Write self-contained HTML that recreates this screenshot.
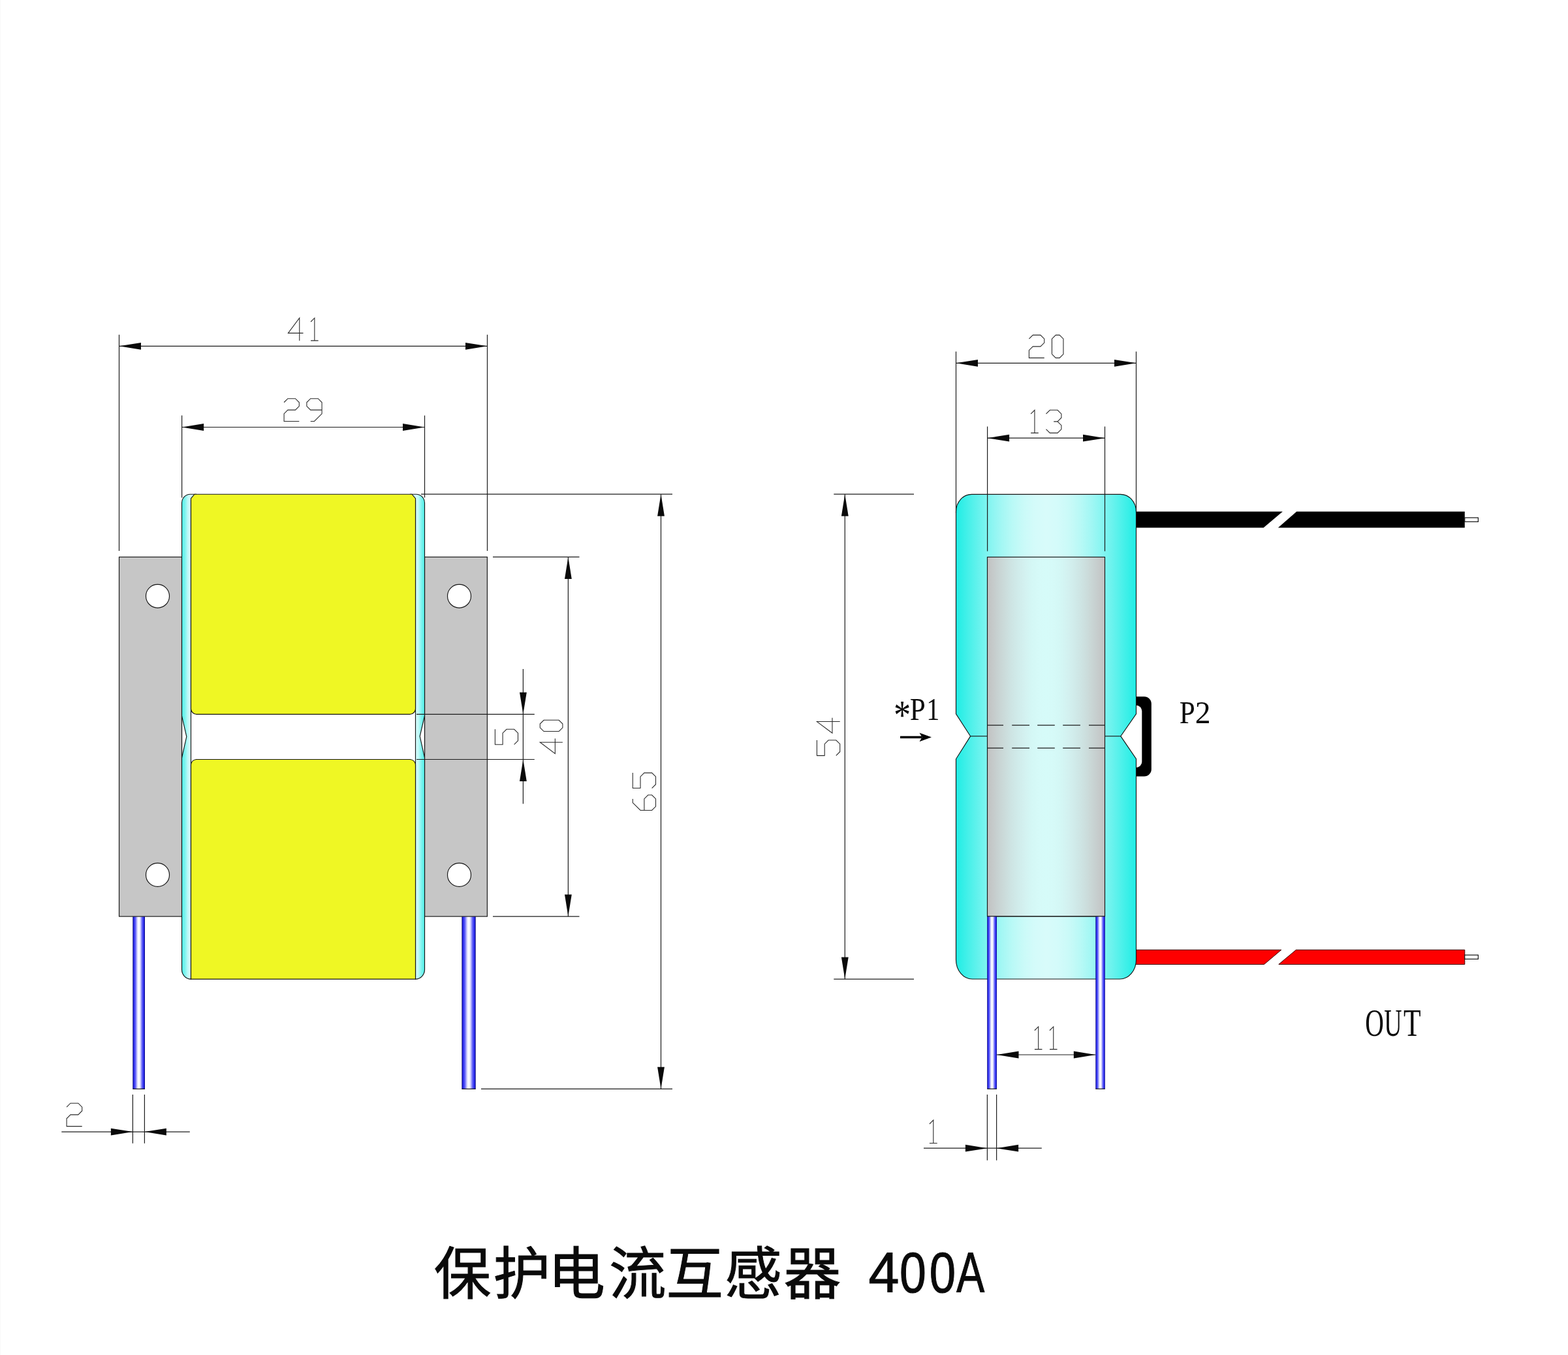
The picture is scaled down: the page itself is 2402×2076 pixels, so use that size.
<!DOCTYPE html>
<html lang="zh"><head><meta charset="utf-8"><title>保护电流互感器 400A</title>
<style>html,body{margin:0;padding:0;background:#fff}body{width:2402px;height:2076px;overflow:hidden;font-family:"Liberation Sans",sans-serif}svg{display:block}.l{stroke:#1c1c1c;stroke-width:1.2;fill:none}.t{stroke:#2a2a2a;stroke-width:1.08;fill:none;stroke-linejoin:miter;stroke-linecap:butt}.a{fill:#0a0a0a;stroke:none}.o{stroke:#151515;stroke-width:1.15}.serif{font-family:"Liberation Serif",serif;fill:#0a0a0a}.sans{font-family:"Liberation Sans",sans-serif;fill:#0a0a0a;stroke:#0a0a0a;stroke-width:1.3px}</style></head><body>
<svg width="2402" height="2076" viewBox="0 0 2402 2076" role="img" aria-label="保护电流互感器 400A">
<defs>
<linearGradient id="cyL" gradientUnits="userSpaceOnUse" x1="278.5" y1="0" x2="292.5" y2="0"><stop offset="0" stop-color="#4cefe8"/><stop offset="0.35" stop-color="#7ff4ef"/><stop offset="0.7" stop-color="#c4faf8"/><stop offset="1" stop-color="#d4fbfa"/></linearGradient>
<linearGradient id="cyR" gradientUnits="userSpaceOnUse" x1="650.5" y1="0" x2="636.5" y2="0"><stop offset="0" stop-color="#4cefe8"/><stop offset="0.35" stop-color="#7ff4ef"/><stop offset="0.7" stop-color="#c4faf8"/><stop offset="1" stop-color="#d4fbfa"/></linearGradient>
<linearGradient id="pin" x1="0" y1="0" x2="1" y2="0"><stop offset="0" stop-color="#04046c"/><stop offset="0.05" stop-color="#1414b8"/><stop offset="0.1" stop-color="#2a2af0"/><stop offset="0.22" stop-color="#5c5cf8"/><stop offset="0.4" stop-color="#e8e8ff"/><stop offset="0.5" stop-color="#ffffff"/><stop offset="0.6" stop-color="#e8e8ff"/><stop offset="0.78" stop-color="#5c5cf8"/><stop offset="0.9" stop-color="#2a2af0"/><stop offset="0.95" stop-color="#1414b8"/><stop offset="1" stop-color="#04046c"/></linearGradient>
<linearGradient id="body" x1="0" y1="0" x2="1" y2="0"><stop offset="0.0000" stop-color="#1fede5"/><stop offset="0.0625" stop-color="#43f0e9"/><stop offset="0.1250" stop-color="#66f2ed"/><stop offset="0.1875" stop-color="#86f5f1"/><stop offset="0.2500" stop-color="#a2f7f4"/><stop offset="0.3125" stop-color="#b9f9f6"/><stop offset="0.3750" stop-color="#cafaf8"/><stop offset="0.4375" stop-color="#d4fbfa"/><stop offset="0.5000" stop-color="#d8fbfa"/><stop offset="0.5625" stop-color="#d4fbfa"/><stop offset="0.6250" stop-color="#cafaf8"/><stop offset="0.6875" stop-color="#b9f9f6"/><stop offset="0.7500" stop-color="#a2f7f4"/><stop offset="0.8125" stop-color="#86f5f1"/><stop offset="0.8750" stop-color="#66f2ed"/><stop offset="0.9375" stop-color="#43f0e9"/><stop offset="1.0000" stop-color="#1fede5"/></linearGradient>
<linearGradient id="core" x1="0" y1="0" x2="1" y2="0"><stop offset="0.0000" stop-color="#c2c2c2"/><stop offset="0.0625" stop-color="#c6cdcd"/><stop offset="0.1250" stop-color="#cad8d7"/><stop offset="0.1875" stop-color="#cde2e1"/><stop offset="0.2500" stop-color="#d0eae9"/><stop offset="0.3125" stop-color="#d3f1f0"/><stop offset="0.3750" stop-color="#d4f7f5"/><stop offset="0.4375" stop-color="#d6faf8"/><stop offset="0.5000" stop-color="#d6fbf9"/><stop offset="0.5625" stop-color="#d6faf8"/><stop offset="0.6250" stop-color="#d4f7f5"/><stop offset="0.6875" stop-color="#d3f1f0"/><stop offset="0.7500" stop-color="#d0eae9"/><stop offset="0.8125" stop-color="#cde2e1"/><stop offset="0.8750" stop-color="#cad8d7"/><stop offset="0.9375" stop-color="#c6cdcd"/><stop offset="1.0000" stop-color="#c2c2c2"/></linearGradient>
</defs>
<rect width="2402" height="2076" fill="#fff"/>
<rect x="0" y="0" width="1.4" height="2076" fill="#fafafa"/>
<g id="front-view">
<rect x="203.3" y="1404.1" width="18.7" height="264.3" fill="url(#pin)"/>
<path class="l" d="M203.3,1668.4 L222,1668.4"/>
<rect x="707.4" y="1404.1" width="21.3" height="264.3" fill="url(#pin)"/>
<path class="l" d="M707.4,1668.4 L728.7,1668.4"/>
<rect class="o" x="182.5" y="853.4" width="96" height="550.7" fill="#c6c6c6"/>
<rect class="o" x="650.5" y="853.4" width="95.9" height="550.7" fill="#c6c6c6"/>
<circle class="o" cx="241.5" cy="913.3" r="18" fill="#fff"/>
<circle class="o" cx="241.5" cy="1340.4" r="18" fill="#fff"/>
<circle class="o" cx="703.5" cy="913.3" r="18" fill="#fff"/>
<circle class="o" cx="703.5" cy="1340.4" r="18" fill="#fff"/>
<path class="o" fill="url(#cyL)" d="M300.5 757.2 L300.5 766.2 L292.5 766.2 L292.5 1500.1 A14 14.5 0 0 1 278.5 1485.6 L278.5 1161.1 L285.8 1128.6 L278.5 1096.8 L278.5 770.5 A13 13.3 0 0 1 291.5 757.2 L300.5 757.2 Z"/>
<path class="o" fill="url(#cyR)" d="M628.5 757.2 L628.5 766.2 L636.5 766.2 L636.5 1500.1 A14 14.5 0 0 0 650.5 1485.6 L650.5 1160.9 L643.2 1128 L650.5 1096.7 L650.5 770.5 A13 13.3 0 0 0 637.5 757.2 L628.5 757.2 Z"/>
<path class="l" d="M278.5,1096.8 L278.5,1161.1"/>
<path class="l" d="M650.5,1096.7 L650.5,1160.9"/>
<path class="o" fill="#eff724" d="M292.5 763.7 L298 757.2 L631 757.2 L636.5 763.7 L636.5 1086.3 Q635.5 1093.3 628.5 1094.3 L300.5 1094.3 Q293.5 1093.3 292.5 1086.3 Z"/>
<path class="o" fill="#eff724" d="M292.5 1171.5 Q293.5 1164.5 300.5 1163.5 L628.5 1163.5 Q635.5 1164.5 636.5 1171.5 L636.5 1500.1 L292.5 1500.1 Z"/>
</g>
<g id="side-view">
<rect x="1725" y="1067.2" width="38.8" height="122.3" rx="11" ry="11" fill="#000"/>
<rect x="1720" y="1080.5" width="29.3" height="95.5" rx="9" ry="9" fill="#fff"/>
<path fill="#000" d="M1738,783.8 L1964.9,783.8 L1935.6,808.6 L1738,808.6 Z M1986.3,783.8 L2243.8,783.8 L2243.8,808.6 L1957.9,808.6 Z"/>
<rect class="o" x="2243.8" y="793.2" width="20.6" height="6.2" fill="#fff" style="stroke-width:1.2"/>
<path fill="#fe0000" stroke="#3a0000" stroke-width="1" d="M1738,1455.3 L1962.8,1455.3 L1936.5,1477.5 L1738,1477.5 Z M1985.4,1455.3 L2243.8,1455.3 L2243.8,1477.5 L1958.8,1477.5 Z"/>
<rect class="o" x="2243.8" y="1463.2" width="20.6" height="6.2" fill="#fff" style="stroke-width:1.2"/>
<path class="o" fill="url(#body)" d="M1488.5 757.3 L1716.5 757.3 A24 26.5 0 0 1 1740.5 783.8 L1740.5 1093.8 L1716.8 1127.9 L1740.5 1162.8 L1740.5 1470.5 A25 29.5 0 0 1 1715.5 1500 L1489.5 1500 A25 29.5 0 0 1 1464.5 1470.5 L1464.5 1162.8 L1486.6 1127.9 L1464.5 1093.8 L1464.5 783.8 A24 26.5 0 0 1 1488.5 757.3 Z"/>
<rect class="o" x="1512.5" y="853.5" width="180" height="550.5" fill="url(#core)"/>
<path class="l" d="M1486.6,1127.9 L1512.5,1127.9"/>
<path class="l" d="M1692.5,1127.9 L1716.8,1127.9"/>
<path class="l" d="M1512.5,1111.2 L1537,1111.2 M1550.2,1111.2 L1577,1111.2 M1589.2,1111.2 L1615.8,1111.2 M1628.2,1111.2 L1654.9,1111.2 M1668,1111.2 L1692.5,1111.2 M1512.5,1146.2 L1537,1146.2 M1550.2,1146.2 L1577,1146.2 M1589.2,1146.2 L1615.8,1146.2 M1628.2,1146.2 L1654.9,1146.2 M1668,1146.2 L1692.5,1146.2"/>
<rect x="1512.2" y="1404" width="14.8" height="264.3" fill="url(#pin)"/>
<path class="l" d="M1512.2,1668.3 L1527,1668.3"/>
<rect x="1678.3" y="1404" width="14.5" height="264.3" fill="url(#pin)"/>
<path class="l" d="M1678.3,1668.3 L1692.8,1668.3"/>
<path class="l" d="M1512.5,1404 L1692.5,1404"/>
</g>
<g id="dims">
<path class="l" d="M182.5,512.8 L182.5,844"/>
<path class="l" d="M746.5,512.8 L746.5,844"/>
<path class="l" d="M182.5,530.3 L746.5,530.3"/>
<path class="a" d="M182.5,530.3 L216,524.9 L216,535.7 Z"/>
<path class="a" d="M746.5,530.3 L713,535.7 L713,524.9 Z"/>
<path class="t" d="M458.74,521.9 L458.74,487.22 L441.4,510.34 L464.52,510.34 M476.08,493 L481.86,487.22 L481.86,521.9 M476.08,521.9 L487.64,521.9"/>
<path class="l" d="M278.6,636.6 L278.6,762.4"/>
<path class="l" d="M650.5,636.6 L650.5,762.4"/>
<path class="l" d="M278.6,654.5 L650.5,654.5"/>
<path class="a" d="M278.6,654.5 L312.1,649.1 L312.1,659.9 Z"/>
<path class="a" d="M650.5,654.5 L617,659.9 L617,649.1 Z"/>
<path class="t" d="M435.1,616.5 L440.9,610.7 L452.5,610.7 L458.3,616.5 L458.3,622.3 L452.5,628.1 L440.9,628.1 L435.1,633.9 L435.1,645.5 L458.3,645.5 M475.7,645.5 L481.5,645.5 L493.1,633.9 L493.1,616.5 L487.3,610.7 L475.7,610.7 L469.9,616.5 L469.9,622.3 L475.7,628.1 L493.1,628.1"/>
<path class="l" d="M645,757.2 L1030,757.2"/>
<path class="l" d="M737,1668.3 L1030,1668.3"/>
<path class="l" d="M1012.5,757.2 L1012.5,1668.3"/>
<path class="a" d="M1012.5,757.2 L1017.9,790.7 L1007.1,790.7 Z"/>
<path class="a" d="M1012.5,1668.3 L1007.1,1634.8 L1017.9,1634.8 Z"/>
<path class="t" d="M969.28,1223.89 L969.28,1229.76 L981.02,1241.5 L998.63,1241.5 L1004.5,1235.63 L1004.5,1223.89 L998.63,1218.02 L992.76,1218.02 L986.89,1223.89 L986.89,1241.5 M969.28,1184.09 L969.28,1207.57 L981.02,1207.57 L981.02,1189.96 L986.89,1184.09 L998.63,1184.09 L1004.5,1189.96 L1004.5,1201.7 L998.63,1207.57"/>
<path class="l" d="M755,853.4 L887.5,853.4"/>
<path class="l" d="M755,1404.1 L887.5,1404.1"/>
<path class="l" d="M870.4,853.4 L870.4,1404.1"/>
<path class="a" d="M870.4,853.4 L875.8,886.9 L865,886.9 Z"/>
<path class="a" d="M870.4,1404.1 L865,1370.6 L875.8,1370.6 Z"/>
<path class="t" d="M861.9,1137.29 L827.28,1137.29 L850.36,1154.6 L850.36,1131.52 M856.13,1120.56 L861.9,1114.79 L861.9,1109.02 L856.13,1103.25 L833.05,1103.25 L827.28,1109.02 L827.28,1114.79 L833.05,1120.56 L856.13,1120.56"/>
<path class="l" d="M638,1094.3 L818.8,1094.3"/>
<path class="l" d="M638,1163.5 L818.8,1163.5"/>
<path class="l" d="M801.4,1025 L801.4,1231.6"/>
<path class="a" d="M801.4,1094.3 L796,1060.8 L806.8,1060.8 Z"/>
<path class="a" d="M801.4,1163.5 L806.8,1197 L796,1197 Z"/>
<path class="t" d="M758.4,1117.3 L758.4,1140.7 L770.1,1140.7 L770.1,1123.15 L775.95,1117.3 L787.65,1117.3 L793.5,1123.15 L793.5,1134.85 L787.65,1140.7"/>
<path class="l" d="M203.4,1677 L203.4,1751.8"/>
<path class="l" d="M221.4,1677 L221.4,1751.8"/>
<path class="l" d="M94.3,1734.1 L290.8,1734.1"/>
<path class="a" d="M203.4,1734.1 L169.9,1739.5 L169.9,1728.7 Z"/>
<path class="a" d="M221.4,1734.1 L254.9,1728.7 L254.9,1739.5 Z"/>
<path class="t" d="M102.1,1696.1 L108,1690.2 L119.8,1690.2 L125.7,1696.1 L125.7,1702 L119.8,1707.9 L108,1707.9 L102.1,1713.8 L102.1,1725.6 L125.7,1725.6"/>
<path class="l" d="M1464.5,538.6 L1464.5,786"/>
<path class="l" d="M1740.5,538.6 L1740.5,786"/>
<path class="l" d="M1464.5,556.3 L1740.5,556.3"/>
<path class="a" d="M1464.5,556.3 L1498,550.9 L1498,561.7 Z"/>
<path class="a" d="M1740.5,556.3 L1707,561.7 L1707,550.9 Z"/>
<path class="t" d="M1576.4,519.2 L1582.24,513.36 L1593.92,513.36 L1599.76,519.2 L1599.76,525.04 L1593.92,530.88 L1582.24,530.88 L1576.4,536.72 L1576.4,548.4 L1599.76,548.4 M1611.44,542.56 L1617.28,548.4 L1623.12,548.4 L1628.96,542.56 L1628.96,519.2 L1623.12,513.36 L1617.28,513.36 L1611.44,519.2 L1611.44,542.56"/>
<path class="l" d="M1512.6,653.5 L1512.6,844.5"/>
<path class="l" d="M1692.5,653.5 L1692.5,844.5"/>
<path class="l" d="M1512.6,671.2 L1692.5,671.2"/>
<path class="a" d="M1512.6,671.2 L1546.1,665.8 L1546.1,676.6 Z"/>
<path class="a" d="M1692.5,671.2 L1659,676.6 L1659,665.8 Z"/>
<path class="t" d="M1579.1,634.15 L1584.95,628.3 L1584.95,663.4 M1579.1,663.4 L1590.8,663.4 M1602.5,634.15 L1608.35,628.3 L1620.05,628.3 L1625.9,634.15 L1625.9,640 L1620.05,645.85 L1614.2,645.85 M1620.05,645.85 L1625.9,651.7 L1625.9,657.55 L1620.05,663.4 L1608.35,663.4 L1602.5,657.55"/>
<path class="l" d="M1277.3,757.2 L1400,757.2"/>
<path class="l" d="M1277.3,1500.1 L1400,1500.1"/>
<path class="l" d="M1294.3,757.2 L1294.3,1500.1"/>
<path class="a" d="M1294.3,757.2 L1299.7,790.7 L1288.9,790.7 Z"/>
<path class="a" d="M1294.3,1500.1 L1288.9,1466.6 L1299.7,1466.6 Z"/>
<path class="t" d="M1251.42,1134.08 L1251.42,1157.6 L1263.18,1157.6 L1263.18,1139.96 L1269.06,1134.08 L1280.82,1134.08 L1286.7,1139.96 L1286.7,1151.72 L1280.82,1157.6 M1286.7,1105.56 L1251.42,1105.56 L1274.94,1123.2 L1274.94,1099.68"/>
<path class="l" d="M1527,1616 L1678.3,1616"/>
<path class="a" d="M1527,1616 L1560.5,1610.6 L1560.5,1621.4 Z"/>
<path class="a" d="M1678.3,1616 L1644.8,1621.4 L1644.8,1610.6 Z"/>
<path class="t" d="M1584.9,1578.75 L1590.67,1572.98 L1590.67,1607.6 M1584.9,1607.6 L1596.44,1607.6 M1607.98,1578.75 L1613.75,1572.98 L1613.75,1607.6 M1607.98,1607.6 L1619.52,1607.6"/>
<path class="l" d="M1512.4,1677.1 L1512.4,1777.8"/>
<path class="l" d="M1526.6,1677.1 L1526.6,1777.8"/>
<path class="l" d="M1415,1759.2 L1595.8,1759.2"/>
<path class="a" d="M1512.4,1759.2 L1478.9,1764.6 L1478.9,1753.8 Z"/>
<path class="a" d="M1526.6,1759.2 L1560.1,1753.8 L1560.1,1764.6 Z"/>
<path class="t" d="M1423.9,1722 L1429.8,1716.1 L1429.8,1751.5 M1423.9,1751.5 L1435.7,1751.5"/>
</g>
<g id="labels" opacity="0.999">
<path d="M1379,1129.5 L1412,1129.5" stroke="#000" stroke-width="3.4" fill="none"/>
<path fill="#000" d="M1427,1129.5 L1408.5,1122.8 L1412.5,1129.5 L1408.5,1136.2 Z"/>
<text class="serif" font-size="100" transform="matrix(0.5232 0 0 0.6409 1369.05 1117.06)">*</text>
<text class="serif" font-size="100" transform="matrix(0.4309 0 0 0.4841 1393.66 1102.70)">P</text>
<text class="serif" font-size="100" transform="matrix(0.4005 0 0 0.4802 1419.28 1102.70)">1</text>
<text class="serif" font-size="100" transform="matrix(0.4309 0 0 0.4887 1806.66 1107.90)">P</text>
<text class="serif" font-size="100" transform="matrix(0.4765 0 0 0.4848 1830.81 1107.90)">2</text>
<text class="serif" font-size="100" transform="matrix(0.3968 0 0 0.6013 2091.27 1587.01)">O</text>
<text class="serif" font-size="100" transform="matrix(0.3793 0 0 0.5959 2120.30 1587.02)">U</text>
<text class="serif" font-size="100" transform="matrix(0.4356 0 0 0.5956 2150.11 1587.00)">T</text>
<text class="sans" font-size="100" transform="matrix(0.8454 0 0 0.8648 1330.56 1979.60)">4</text>
<text class="sans" font-size="100" transform="matrix(0.7343 0 0 0.8630 1378.03 1979.56)">0</text>
<text class="sans" font-size="100" transform="matrix(0.7238 0 0 0.8630 1423.77 1979.56)">0</text>
<text class="sans" font-size="100" transform="matrix(0.6425 0 0 0.8648 1465.37 1979.60)">A</text>
</g>
<g id="title" fill="#0a0a0a" stroke="#0a0a0a" stroke-width="1" stroke-linejoin="miter">
<text x="664.8 755.5 839.4 932.9 1020.4 1110.3 1200.7" y="1983" font-size="87.5" font-family="'Liberation Sans','Noto Sans CJK SC',sans-serif">保护电流互感器</text>
</g>
</svg></body></html>
